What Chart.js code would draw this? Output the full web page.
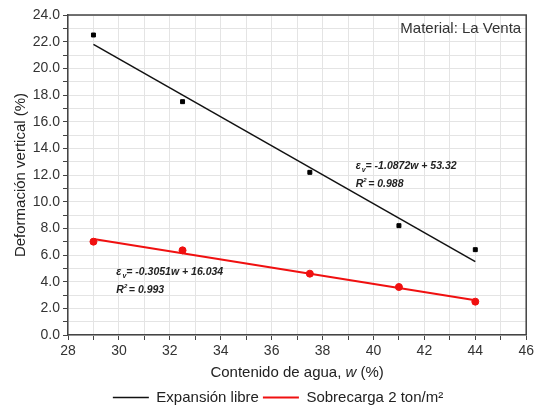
<!DOCTYPE html>
<html>
<head>
<meta charset="utf-8">
<script src="https://cdn.jsdelivr.net/npm/chart.js@4"></script>
<style>
  html, body { margin: 0; padding: 0; background: #fff; }
  #wrap { width: 537px; height: 408px; }
</style>
</head>
<body>
<div id="wrap"><canvas id="deformChart" width="537" height="408"></canvas></div>
<script>
// datos
const wExp = [29, 32.5, 37.5, 41, 44];
const defExp = [22.5, 17.5, 12.2, 8.2, 6.4];
const wSob = [29, 32.5, 37.5, 41, 44];
const defSob = [7.0, 6.35, 4.6, 3.6, 2.5];
const fitW = [29, 44];
const fitExp = [21.8, 5.5];
const fitSob = [7.2, 2.6];
const seriesNames = ["Expansión libre", "Sobrecarga 2 ton/m²"];

const toPts = (xs, ys) => xs.map((x, i) => ({ x, y: ys[i] }));
const FONT = "'Liberation Sans', Arial, sans-serif";

// marco superior/derecho, título del eje x y textos de las ecuaciones
const extras = {
  id: "extras",
  afterLayout(chart) {
    // la leyenda del original está algo desplazada a la derecha
    chart.legend.left += 14;
    chart.legend.right += 14;
  },
  afterDraw(chart) {
    const { ctx, chartArea: a, scales: { x, y } } = chart;
    ctx.save();
    ctx.strokeStyle = "#444";
    ctx.lineWidth = 1.5;
    ctx.beginPath();
    ctx.moveTo(a.left, a.top);
    ctx.lineTo(a.right, a.top);
    ctx.lineTo(a.right, a.bottom);
    ctx.stroke();

    ctx.fillStyle = "#333";
    ctx.font = "15px " + FONT;
    ctx.textAlign = "right";
    ctx.textBaseline = "middle";
    ctx.fillText("Material: La Venta", a.right - 5, a.top + 14);

    // título eje x con la w en cursiva
    const parts = [["Contenido de agua, ", "15px "], ["w", "italic 15px "], [" (%)", "15px "]];
    let total = 0;
    parts.forEach(p => { ctx.font = p[1] + FONT; total += ctx.measureText(p[0]).width; });
    let tx = (a.left + a.right) / 2 - total / 2;
    ctx.textAlign = "left";
    ctx.fillStyle = "#222";
    parts.forEach(p => {
      ctx.font = p[1] + FONT;
      ctx.fillText(p[0], tx, a.bottom + 38);
      tx += ctx.measureText(p[0]).width;
    });

    const eq = (px, py, slope, icpt, r2) => {
      ctx.textAlign = "left";
      ctx.textBaseline = "alphabetic";
      ctx.fillStyle = "#222";
      ctx.font = "italic bold 10.5px " + FONT;
      ctx.fillText("ε", px, py);
      let cx = px + ctx.measureText("ε").width + 1;
      ctx.font = "italic bold 7px " + FONT;
      ctx.fillText("v", cx, py + 3);
      cx += ctx.measureText("v").width;
      ctx.font = "italic bold 10.5px " + FONT;
      ctx.fillText("= " + slope + "w + " + icpt, cx, py);
      const ry = py + 18;
      ctx.fillText("R", px, ry);
      let rx = px + ctx.measureText("R").width;
      ctx.font = "italic bold 6px " + FONT;
      ctx.fillText("2", rx, ry - 5);
      ctx.font = "italic bold 10.5px " + FONT;
      ctx.fillText(" = " + r2, rx + 2, ry);
    };
    eq(x.getPixelForValue(39.3), y.getPixelForValue(12.45), "-1.0872", "53.32", "0.988");
    eq(x.getPixelForValue(29.9), y.getPixelForValue(4.5), "-0.3051", "16.034", "0.993");
    ctx.restore();
  }
};

const ctx = document.getElementById("deformChart").getContext("2d");
new Chart(ctx, {
  type: "scatter",
  data: {
    datasets: [
      {
        label: seriesNames[0],
        data: toPts(fitW, fitExp),
        showLine: true,
        borderColor: "#111",
        backgroundColor: "#111",
        borderWidth: 1.5,
        pointRadius: 0
      },
      {
        label: seriesNames[1],
        data: toPts(fitW, fitSob),
        showLine: true,
        borderColor: "#f01010",
        backgroundColor: "#f01010",
        borderWidth: 2,
        pointRadius: 0
      },
      {
        label: "exp-pts",
        data: toPts(wExp, defExp),
        pointStyle: "rect",
        pointRadius: 2.8,
        backgroundColor: "#000",
        borderColor: "#000"
      },
      {
        label: "sob-pts",
        data: toPts(wSob, defSob),
        pointStyle: "circle",
        pointRadius: 3.5,
        backgroundColor: "#f01010",
        borderColor: "#f01010"
      }
    ]
  },
  options: {
    responsive: false,
    animation: false,
    layout: { padding: { top: 15, right: 9, left: 0, bottom: -7 } },
    plugins: {
      tooltip: { enabled: false },
      legend: {
        position: "bottom",
        labels: {
          filter: item => item.datasetIndex < 2,
          usePointStyle: true,
          pointStyle: "line",
          pointStyleWidth: 36,
          boxHeight: 2,
          padding: 4,
          color: "#222",
          font: { family: FONT, size: 15 }
        }
      }
    },
    scales: {
      x: {
        type: "linear",
        min: 28,
        max: 46,
        afterFit: s => { s.height = 51; },
        border: { color: "#444", width: 1.5 },
        grid: { color: "#e4e4e4", tickColor: "#444", tickLength: 5 },
        ticks: {
          stepSize: 1,
          autoSkip: false,
          maxRotation: 0,
          padding: 3,
          color: "#333",
          font: { family: FONT, size: 14 },
          callback: v => (v % 2 === 0 ? v : "")
        }
      },
      y: {
        type: "linear",
        min: 0,
        max: 24,
        afterFit: s => { s.width = 68; },
        border: { color: "#444", width: 1.5 },
        grid: { color: "#e4e4e4", tickColor: "#444", tickLength: 5 },
        ticks: {
          stepSize: 1,
          autoSkip: false,
          padding: 3,
          color: "#333",
          font: { family: FONT, size: 14 },
          callback: v => (v % 2 === 0 ? v.toFixed(1) : "")
        },
        title: {
          display: true,
          text: "Deformación vertical (%)",
          color: "#222",
          padding: { top: 12, bottom: 0 },
          font: { family: FONT, size: 15 }
        }
      }
    }
  },
  plugins: [extras]
});
</script>
</body>
</html>
